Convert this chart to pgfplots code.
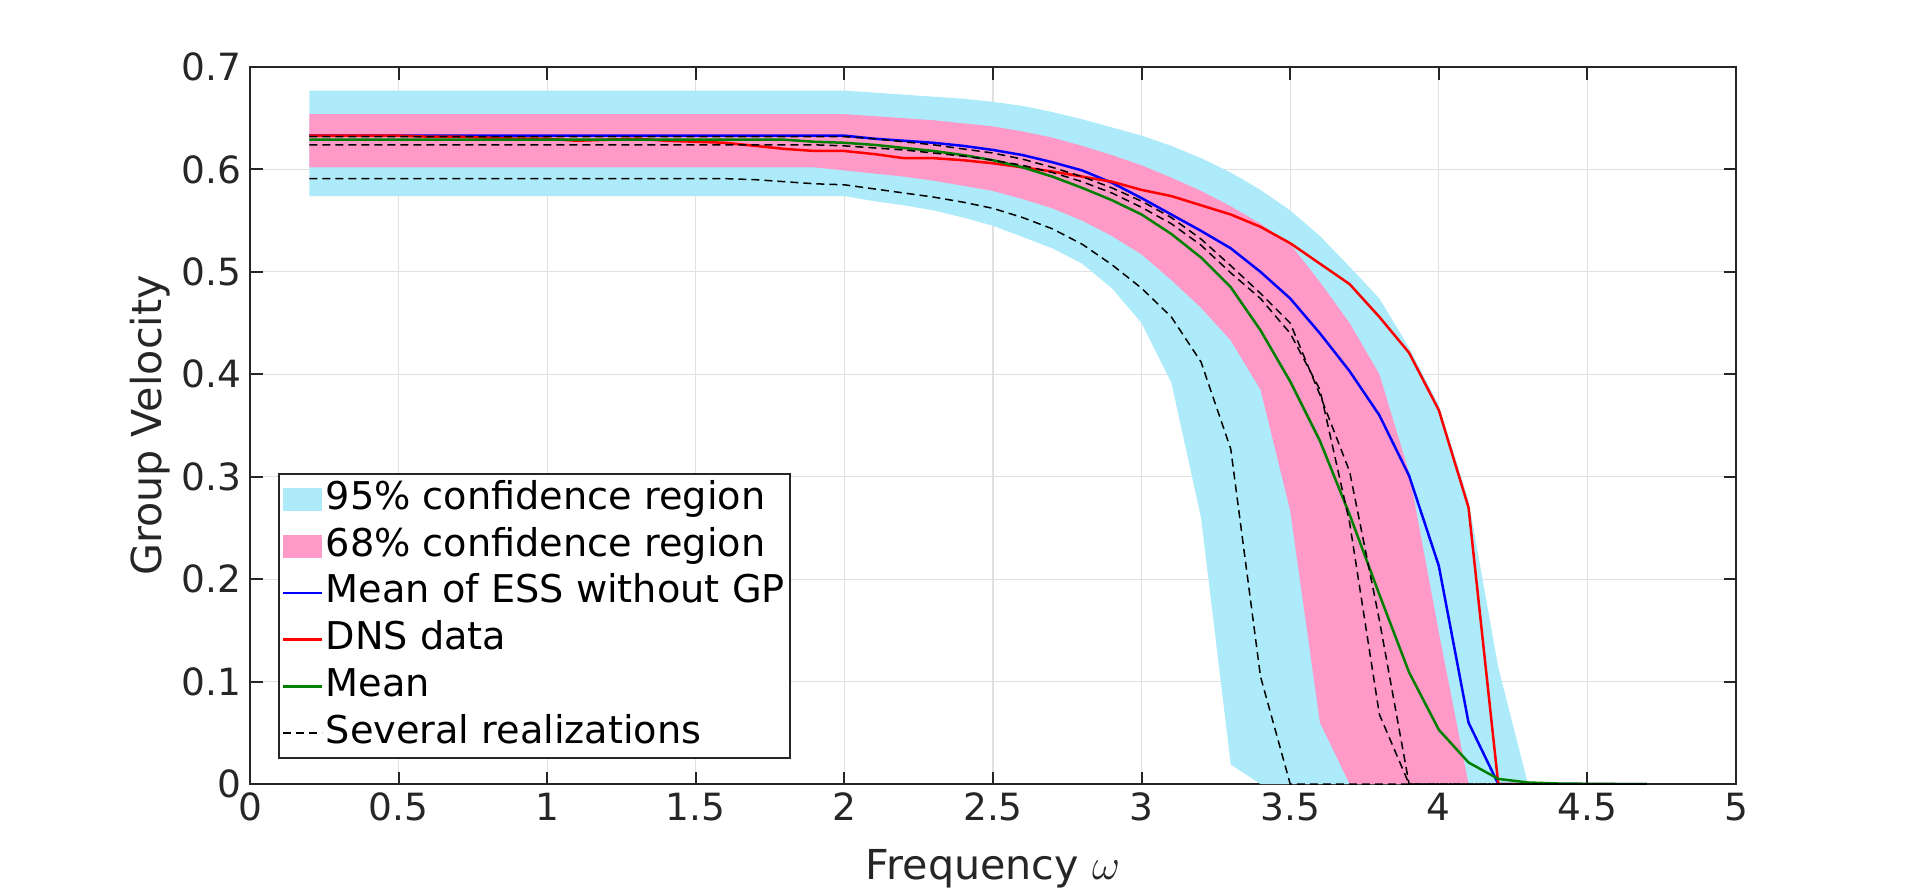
\documentclass[border=0pt]{standalone}
\usepackage{pgfplots}
\pgfplotsset{compat=1.18}
\usepackage{fontspec}
\setmainfont{DejaVu Sans}
\definecolor{cband}{RGB}{173,235,250}
\definecolor{pband}{RGB}{254,153,200}
\definecolor{mgreen}{RGB}{0,128,0}
\definecolor{axgray}{RGB}{38,38,38}
\begin{document}
\begin{tikzpicture}
\useasboundingbox (-100pt,-43.6pt) rectangle (668pt,313.6pt);
\begin{axis}[
  at={(0,0)}, anchor=south west,
  scale only axis, width=594.4pt, height=286.8pt,
  xmin=0, xmax=5, ymin=0, ymax=0.7,
  xtick={0,0.5,1,1.5,2,2.5,3,3.5,4,4.5,5},
  ytick={0,0.1,0.2,0.3,0.4,0.5,0.6,0.7},
  yticklabels={0,0.1,0.2,0.3,0.4,0.5,0.6,0.7},
  xticklabels={0,0.5,1,1.5,2,2.5,3,3.5,4,4.5,5},
  tick align=inside, major tick length=5pt,
  grid=major, major grid style={draw=black!12, line width=0.5pt},
  axis line style={draw=axgray, line width=0.8pt},
  tick style={draw=axgray, line width=0.8pt},
  tick label style={font=\fontsize{15}{18}\selectfont, text=axgray},
  /pgf/number format/assume math mode=true,
  xlabel={Frequency $\omega$}, ylabel={Group Velocity},
  label style={font=\fontsize{16.5}{20}\selectfont, text=axgray},
  xlabel style={at={(axis description cs:0.5,-0.1186)}, anchor=center},
  ylabel style={at={(axis description cs:-0.0673,0.5)}, anchor=center},
  legend style={at={(axis description cs:0.019,0.035)}, anchor=south west,
    draw=axgray, line width=0.8pt, font=\fontsize{15.3}{18}\selectfont,
    inner xsep=1pt, inner ysep=0.6pt, row sep=0pt,
    nodes={inner xsep=1pt, inner ysep=1.8pt, text height=11.6pt, text depth=3.5pt}},
  legend cell align=left,
]
% 95% region
\addplot[fill=cband, draw=none,
  legend image code/.code={\fill[cband] (0pt,-4.6pt) rectangle (15.6pt,4.6pt);}]
 coordinates {(0.2,0.677)(0.3,0.677)(0.4,0.677)(0.5,0.677)(0.6,0.677)(0.7,0.677)(0.8,0.677)(0.9,0.677)(1.0,0.677)(1.1,0.677)(1.2,0.677)(1.3,0.677)(1.4,0.677)(1.5,0.677)(1.6,0.677)(1.7,0.677)(1.8,0.677)(1.9,0.677)(2.0,0.677)(2.1,0.675)(2.2,0.673)(2.3,0.671)(2.4,0.669)(2.5,0.666)(2.6,0.662)(2.7,0.656)(2.8,0.649)(2.9,0.641)(3.0,0.633)(3.1,0.623)(3.2,0.611)(3.3,0.597)(3.4,0.580)(3.5,0.560)(3.6,0.535)(3.7,0.505)(3.8,0.474)(3.9,0.426)(4.0,0.370)(4.1,0.277)(4.2,0.114)(4.3,0)
 (4.2,0)(4.1,0)(4.0,0)(3.9,0)(3.8,0)(3.7,0)(3.6,0)(3.5,0)(3.4,0)(3.3,0.019)(3.2,0.260)(3.1,0.392)(3.0,0.450)(2.9,0.484)(2.8,0.508)(2.7,0.523)(2.6,0.534)(2.5,0.545)(2.4,0.553)(2.3,0.560)(2.2,0.565)(2.1,0.569)(2.0,0.574)(1.9,0.574)(1.8,0.574)(1.7,0.574)(1.6,0.574)(1.5,0.574)(1.4,0.574)(1.3,0.574)(1.2,0.574)(1.1,0.574)(1.0,0.574)(0.9,0.574)(0.8,0.574)(0.7,0.574)(0.6,0.574)(0.5,0.574)(0.4,0.574)(0.3,0.574)(0.2,0.574)};
\addlegendentry{95\% confidence region}
% 68% region
\addplot[fill=pband, draw=none,
  legend image code/.code={\fill[pband] (0pt,-4.6pt) rectangle (15.6pt,4.6pt);}]
 coordinates {(0.2,0.654)(0.3,0.654)(0.4,0.654)(0.5,0.654)(0.6,0.654)(0.7,0.654)(0.8,0.654)(0.9,0.654)(1.0,0.654)(1.1,0.654)(1.2,0.654)(1.3,0.654)(1.4,0.654)(1.5,0.654)(1.6,0.654)(1.7,0.654)(1.8,0.654)(1.9,0.654)(2.0,0.654)(2.1,0.652)(2.2,0.650)(2.3,0.648)(2.4,0.645)(2.5,0.642)(2.6,0.637)(2.7,0.631)(2.8,0.623)(2.9,0.614)(3.0,0.604)(3.1,0.592)(3.2,0.579)(3.3,0.564)(3.4,0.547)(3.5,0.527)(3.6,0.490)(3.7,0.450)(3.8,0.400)(3.9,0.304)(4.0,0.148)(4.1,0)
 (4.0,0)(3.9,0)(3.8,0)(3.7,0)(3.6,0.060)(3.5,0.267)(3.4,0.385)(3.3,0.433)(3.2,0.465)(3.1,0.492)(3.0,0.517)(2.9,0.535)(2.8,0.550)(2.7,0.562)(2.6,0.571)(2.5,0.579)(2.4,0.584)(2.3,0.589)(2.2,0.593)(2.1,0.596)(2.0,0.599)(1.9,0.602)(1.8,0.602)(1.7,0.602)(1.6,0.602)(1.5,0.602)(1.4,0.602)(1.3,0.602)(1.2,0.602)(1.1,0.602)(1.0,0.602)(0.9,0.602)(0.8,0.602)(0.7,0.602)(0.6,0.602)(0.5,0.602)(0.4,0.602)(0.3,0.602)(0.2,0.602)};
\addlegendentry{68\% confidence region}
% Mean of ESS without GP
\addplot[blue, line width=1pt,
  legend image code/.code={\draw[blue, line width=1pt] (0pt,0pt) -- (15.6pt,0pt);}]
 coordinates {(0.2,0.633)(0.3,0.633)(0.4,0.633)(0.5,0.633)(0.6,0.633)(0.7,0.633)(0.8,0.633)(0.9,0.633)(1.0,0.633)(1.1,0.633)(1.2,0.633)(1.3,0.633)(1.4,0.633)(1.5,0.633)(1.6,0.633)(1.7,0.633)(1.8,0.633)(1.9,0.633)(2.0,0.633)(2.1,0.630)(2.2,0.628)(2.3,0.626)(2.4,0.623)(2.5,0.619)(2.6,0.614)(2.7,0.607)(2.8,0.599)(2.9,0.587)(3.0,0.572)(3.1,0.556)(3.2,0.540)(3.3,0.523)(3.4,0.500)(3.5,0.474)(3.6,0.440)(3.7,0.403)(3.8,0.360)(3.9,0.301)(4.0,0.213)(4.1,0.060)(4.2,0)(4.3,0)(4.4,0)(4.5,0)(4.6,0)(4.7,0)};
\addlegendentry{Mean of ESS without GP}
% DNS data
\addplot[red, line width=1pt,
  legend image code/.code={\draw[red, line width=1pt] (0pt,0pt) -- (15.6pt,0pt);}]
 coordinates {(0.2,0.633)(0.3,0.633)(0.4,0.633)(0.5,0.633)(0.6,0.632)(0.7,0.632)(0.8,0.631)(0.9,0.630)(1.0,0.630)(1.1,0.628)(1.2,0.629)(1.3,0.630)(1.4,0.628)(1.5,0.627)(1.6,0.626)(1.7,0.623)(1.8,0.620)(1.9,0.618)(2.0,0.618)(2.1,0.615)(2.2,0.611)(2.3,0.611)(2.4,0.609)(2.5,0.606)(2.6,0.602)(2.7,0.598)(2.8,0.593)(2.9,0.588)(3.0,0.580)(3.1,0.574)(3.2,0.565)(3.3,0.556)(3.4,0.544)(3.5,0.528)(3.6,0.508)(3.7,0.488)(3.8,0.456)(3.9,0.421)(4.0,0.365)(4.1,0.270)(4.2,0)(4.3,0)};
\addlegendentry{DNS data}
% Mean
\addplot[mgreen, line width=1pt,
  legend image code/.code={\draw[mgreen, line width=1pt] (0pt,0pt) -- (15.6pt,0pt);}]
 coordinates {(0.2,0.629)(0.3,0.629)(0.4,0.629)(0.5,0.629)(0.6,0.629)(0.7,0.629)(0.8,0.629)(0.9,0.629)(1.0,0.629)(1.1,0.629)(1.2,0.629)(1.3,0.629)(1.4,0.629)(1.5,0.629)(1.6,0.629)(1.7,0.629)(1.8,0.629)(1.9,0.627)(2.0,0.626)(2.1,0.624)(2.2,0.621)(2.3,0.618)(2.4,0.614)(2.5,0.609)(2.6,0.602)(2.7,0.593)(2.8,0.582)(2.9,0.570)(3.0,0.556)(3.1,0.537)(3.2,0.514)(3.3,0.485)(3.4,0.443)(3.5,0.393)(3.6,0.335)(3.7,0.263)(3.8,0.185)(3.9,0.109)(4.0,0.053)(4.1,0.021)(4.2,0.005)(4.3,0.0015)(4.4,0.0005)(4.5,0.0002)(4.6,0)(4.7,0)};
\addlegendentry{Mean}
% Several realizations
\addplot[black, line width=0.6pt, dash pattern=on 3.2pt off 2pt,
  legend image code/.code={\draw[black, line width=0.6pt, dash pattern=on 3.2pt off 2pt] (0pt,0pt) -- (15.6pt,0pt);}]
 coordinates {(0.2,0.632)(0.3,0.632)(0.4,0.632)(0.5,0.632)(0.6,0.632)(0.7,0.632)(0.8,0.632)(0.9,0.632)(1.0,0.632)(1.1,0.632)(1.2,0.632)(1.3,0.632)(1.4,0.632)(1.5,0.632)(1.6,0.632)(1.7,0.632)(1.8,0.632)(1.9,0.632)(2.0,0.632)(2.1,0.630)(2.2,0.627)(2.3,0.624)(2.4,0.620)(2.5,0.616)(2.6,0.610)(2.7,0.602)(2.8,0.593)(2.9,0.582)(3.0,0.569)(3.1,0.553)(3.2,0.532)(3.3,0.506)(3.4,0.479)(3.5,0.450)(3.6,0.380)(3.7,0.305)(3.8,0.160)(3.9,0)(4.0,0)(4.1,0)(4.2,0)(4.3,0)(4.4,0)(4.5,0)(4.6,0)(4.7,0)};
\addlegendentry{Several realizations}
\addplot[black, line width=0.6pt, dash pattern=on 3.2pt off 2pt, forget plot]
 coordinates {(0.2,0.624)(0.3,0.624)(0.4,0.624)(0.5,0.624)(0.6,0.624)(0.7,0.624)(0.8,0.624)(0.9,0.624)(1.0,0.624)(1.1,0.624)(1.2,0.624)(1.3,0.624)(1.4,0.624)(1.5,0.624)(1.6,0.624)(1.7,0.624)(1.8,0.624)(1.9,0.624)(2.0,0.623)(2.1,0.621)(2.2,0.619)(2.3,0.616)(2.4,0.613)(2.5,0.609)(2.6,0.604)(2.7,0.597)(2.8,0.588)(2.9,0.577)(3.0,0.563)(3.1,0.547)(3.2,0.526)(3.3,0.499)(3.4,0.474)(3.5,0.440)(3.6,0.385)(3.7,0.255)(3.8,0.068)(3.9,0)(4.0,0)(4.1,0)(4.2,0)(4.3,0)(4.4,0)(4.5,0)(4.6,0)(4.7,0)};
\addplot[black, line width=0.6pt, dash pattern=on 3.2pt off 2pt, forget plot]
 coordinates {(0.2,0.591)(0.3,0.591)(0.4,0.591)(0.5,0.591)(0.6,0.591)(0.7,0.591)(0.8,0.591)(0.9,0.591)(1.0,0.591)(1.1,0.591)(1.2,0.591)(1.3,0.591)(1.4,0.591)(1.5,0.591)(1.6,0.591)(1.7,0.590)(1.8,0.588)(1.9,0.586)(2.0,0.585)(2.1,0.581)(2.2,0.577)(2.3,0.573)(2.4,0.568)(2.5,0.562)(2.6,0.553)(2.7,0.542)(2.8,0.527)(2.9,0.507)(3.0,0.484)(3.1,0.456)(3.2,0.412)(3.3,0.327)(3.4,0.105)(3.5,0)(3.6,0)(3.7,0)(3.8,0)(3.9,0)(4.0,0)(4.1,0)(4.2,0)(4.3,0)(4.4,0)(4.5,0)(4.6,0)(4.7,0)};
\end{axis}
\end{tikzpicture}
\end{document}
